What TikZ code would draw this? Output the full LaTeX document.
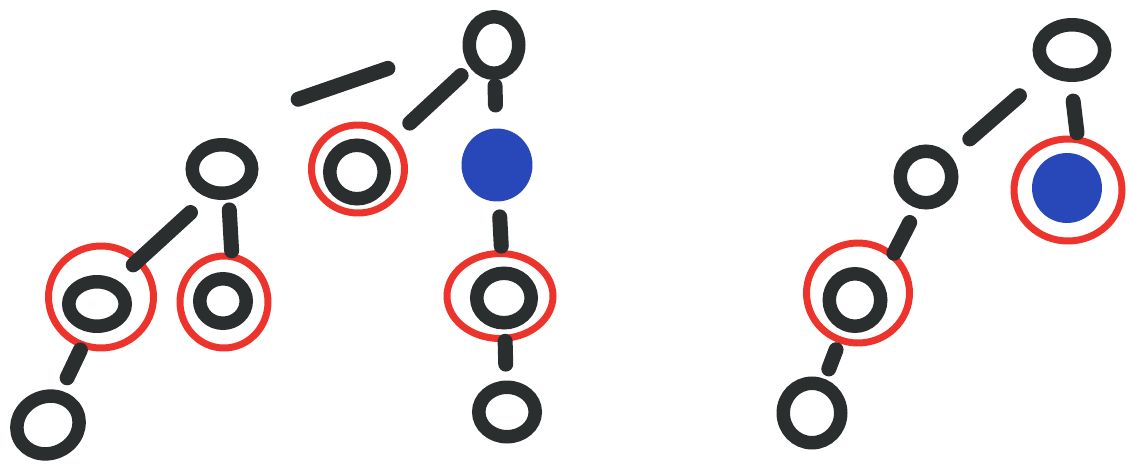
\documentclass[tikz,border=0pt]{standalone}
\usetikzlibrary{shapes.geometric,calc}
\definecolor{ink}{RGB}{42,46,46}
\definecolor{marker}{RGB}{236,52,44}
\definecolor{dot}{RGB}{40,72,185}
\begin{document}
\begin{tikzpicture}[x=0.02cm, y=-0.02cm,
  ring/.style={ellipse, draw=ink, line width=0.27cm, inner sep=0pt},
  filled/.style={ellipse, fill=dot, inner sep=0pt},
  redmark/.style={ellipse, draw=marker, line width=0.14cm, inner sep=0pt},
  edge/.style={draw=ink, line width=0.3cm, line cap=round}]
  \useasboundingbox (0,0) rectangle (1130,466);
  % Left tree
  \node[ring, minimum width=0.99cm, minimum height=1.13cm] (A) at (494,45) {};
  \node[filled, minimum width=1.42cm, minimum height=1.46cm] (B) at (497,165) {};
  \node[ring, minimum width=1.09cm, minimum height=1.07cm] (C) at (357,172) {};
  \node[ring, minimum width=1.19cm, minimum height=0.97cm] (D) at (222,169) {};
  \node[ring, minimum width=1.13cm, minimum height=0.89cm] (E) at (97,304) {};
  \node[ring, minimum width=0.93cm, minimum height=0.89cm] (F) at (223,301) {};
  \node[ring, minimum width=1.27cm, minimum height=1.13cm, rotate=25] (G) at (48,425) {};
  \node[ring, minimum width=1.09cm, minimum height=0.99cm] (H) at (504,298) {};
  \node[ring, minimum width=1.13cm, minimum height=0.99cm] (I) at (507,412) {};
  % Red marks
  \node[redmark, minimum width=1.86cm, minimum height=1.76cm] (Cm) at (358,169) {};
  \node[redmark, minimum width=2.10cm, minimum height=2.04cm] (Em) at (101,297) {};
  \node[redmark, minimum width=1.76cm, minimum height=1.84cm] (Fm) at (224,302) {};
  \node[redmark, minimum width=2.12cm, minimum height=1.70cm] (Hm) at (500,296) {};
  % Left edges
  \draw[edge] ($(A)!.24!(C)$) -- ($(A)!.615!(C)$);
  \draw[edge] ($(D)!.28!(A)+(0,-35)$) -- ($(D)!.61!(A)+(0,-25)$);
  \draw[edge] ($(D)!.30!(E)+(6,3)$) -- ($(D)!.71!(E)$);
  \draw[edge] ($(D)!.31!(F)+(7,0)$) -- ($(D)!.62!(F)+(9,0)$);
  \draw[edge] ($(E)!.38!(G)+(2,0)$) -- ($(E)!.61!(G)$);
  \draw[edge] ($(A)!.34!(B)$) -- ($(A)!.5!(B)$);
  \draw[edge] ($(B)!.39!(H)$) -- ($(B)!.61!(H)$);
  \draw[edge] ($(H)!.38!(I)$) -- ($(H)!.58!(I)$);
  % Right tree
  \node[ring, minimum width=1.31cm, minimum height=1.01cm] (J) at (1072,50) {};
  \node[filled, minimum width=1.40cm, minimum height=1.40cm] (K) at (1067,188) {};
  \node[ring, minimum width=1.03cm, minimum height=1.03cm] (L) at (926,177) {};
  \node[ring, minimum width=1.03cm, minimum height=1.05cm] (M) at (855,300) {};
  \node[ring, minimum width=1.15cm, minimum height=1.19cm] (N) at (812,413) {};
  \node[redmark, minimum width=2.16cm, minimum height=2.04cm] (Km) at (1068,190) {};
  \node[redmark, minimum width=2.06cm, minimum height=2.0cm] (Mm) at (858,293) {};
  \draw[edge] ($(J)!.37!(K)+(3,0)$) -- ($(J)!.6!(K)+(8,0)$);
  \draw[edge] ($(J)!.36!(L)$) -- ($(J)!.70!(L)$);
  \draw[edge] ($(L)!.37!(M)+(10,0)$) -- ($(L)!.62!(M)+(12,0)$);
  \draw[edge] ($(M)!.44!(N)$) -- ($(M)!.61!(N)$);
\end{tikzpicture}
\end{document}
